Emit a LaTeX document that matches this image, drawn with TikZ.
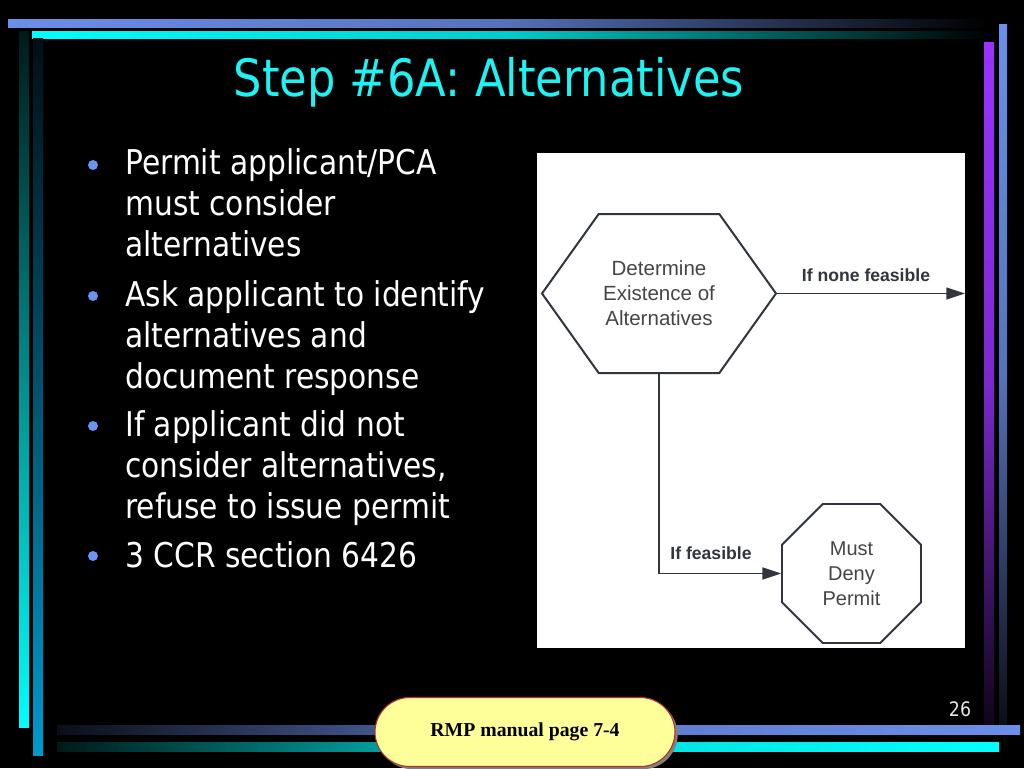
\documentclass[tikz,border=0pt]{standalone}
\usepackage{tikz}
\usepackage{xcolor}
\usepackage{fontspec}
\setmainfont{DejaVu Sans}[FakeStretch=0.87]
\newfontfamily\arialfont{Liberation Sans}
\newfontfamily\timesfont{Liberation Serif}
\usetikzlibrary{shapes.symbols,shapes.geometric,arrows.meta,shadows}
\definecolor{peri}{HTML}{6B8FEA}
\definecolor{aqua}{HTML}{00FFFF}
\definecolor{titlecyan}{HTML}{1EF2F2}
\definecolor{ocean}{HTML}{0099CC}
\definecolor{bandviolet}{HTML}{9933FF}
\definecolor{flowgray}{HTML}{30353E}
\definecolor{hextext}{HTML}{454545}
\definecolor{btnfill}{HTML}{FFFF99}
\definecolor{btnedge}{HTML}{B0302A}
\definecolor{dotblue}{HTML}{6A94F0}
\begin{document}
\begin{tikzpicture}[x=0.75pt,y=-0.75pt]
				\tikzstyle{every node}+=[inner sep=0pt]
				\tikzstyle{pt}=[anchor=base west, align=left, text=white, font=\fontsize{25.6}{30.4}\selectfont]
				\tikzstyle{hexa}=[signal, signal to=west and east, signal pointer angle=109, draw=flowgray, line width=1.5pt, minimum width=175.5pt, minimum height=119.25pt, align=center, text=hextext, font=\arialfont\fontsize{15.4}{18.75}\selectfont]
				\tikzstyle{octa}=[regular polygon, regular polygon sides=8, draw=flowgray, line width=1.4pt, minimum size=112.8pt, align=center, text=hextext, font=\arialfont\fontsize{15}{18.75}\selectfont]
				\tikzstyle{flow}=[flowgray, line width=1.1pt, -{Triangle[length=14pt,width=9pt]}]
				\tikzstyle{lbl}=[text=flowgray, font=\arialfont\bfseries\fontsize{13.2}{15}\selectfont]
				\tikzstyle{btn}=[draw=btnedge, line width=0.8pt, fill=btnfill, rounded corners=26pt, minimum width=225pt, minimum height=51.75pt, drop shadow={shadow xshift=2pt, shadow yshift=-2pt, fill=gray, opacity=1}, font=\timesfont\bfseries\fontsize{14.8}{17}\selectfont]
				\useasboundingbox (0,0) rectangle (1024,768);
				\fill [black] (0,0) rectangle (1024,768);
				\shade [left color=peri, right color=black, middle color=peri!80!black] (8,19) rectangle (990,27);
				\shade [left color=aqua, right color=black, middle color=aqua!80!black] (32,31) rectangle (990,38);
				\shade [top color=aqua!10!black, bottom color=aqua] (19,31) rectangle (29,727);
				\shade [top color=ocean!10!black, bottom color=ocean] (33,38) rectangle (43,755);
				\shade [top color=bandviolet, bottom color=bandviolet!10!black, middle color=bandviolet!80!black] (984,42) rectangle (994,724);
				\shade [top color=peri, bottom color=peri!10!black, middle color=peri!80!black] (999,24) rectangle (1007,724);
				\shade [left color=peri!10!black, right color=peri, middle color=peri!85!black] (57,725) rectangle (1020,734);
				\shade [left color=aqua!10!black, right color=aqua, middle color=aqua!85!black] (57,742) rectangle (999,751);
				\node [text=titlecyan, font=\fontsize{38.6}{46}\selectfont] (title) at (489,82) {Step \#6A: Alternatives};
				\node [pt] (b1) at (125,256) {Permit applicant/PCA\\must consider\\alternatives};
				\node [pt] (b2) at (125,388) {Ask applicant to identify\\alternatives and\\document response};
				\node [pt] (b3) at (125,518) {If applicant did not\\consider alternatives,\\refuse to issue permit};
				\node [pt] (b4) at (125,567) {3 CCR section 6426};
				\fill [dotblue] (93,165) circle (5);
				\fill [dotblue] (93,296) circle (5);
				\fill [dotblue] (93,426) circle (5);
				\fill [dotblue] (93,556) circle (5);
				\fill [white] (537,153) rectangle (965,648);
				\node [hexa] (det) at (659,293.5) {Determine\\Existence of\\Alternatives};
				\node [octa] (deny) at (851.5,573.5) {Must\\Deny\\Permit};
				\coordinate (edge) at (965,293.5);
				\draw [flow] (det.east) -- (edge);
				\draw [flow] (det.south) |- (deny.west);
				\node [lbl] (none) at (866,275) {If none feasible};
				\node [lbl] (feas) at (711,553) {If feasible};
				\node [text=white!90!black, font=\fontsize{15}{18}\selectfont] (pg) at (960,709) {26};
				\node [btn] (rmp) at (525,732) {RMP manual page 7-4};
\end{tikzpicture}
\end{document}
